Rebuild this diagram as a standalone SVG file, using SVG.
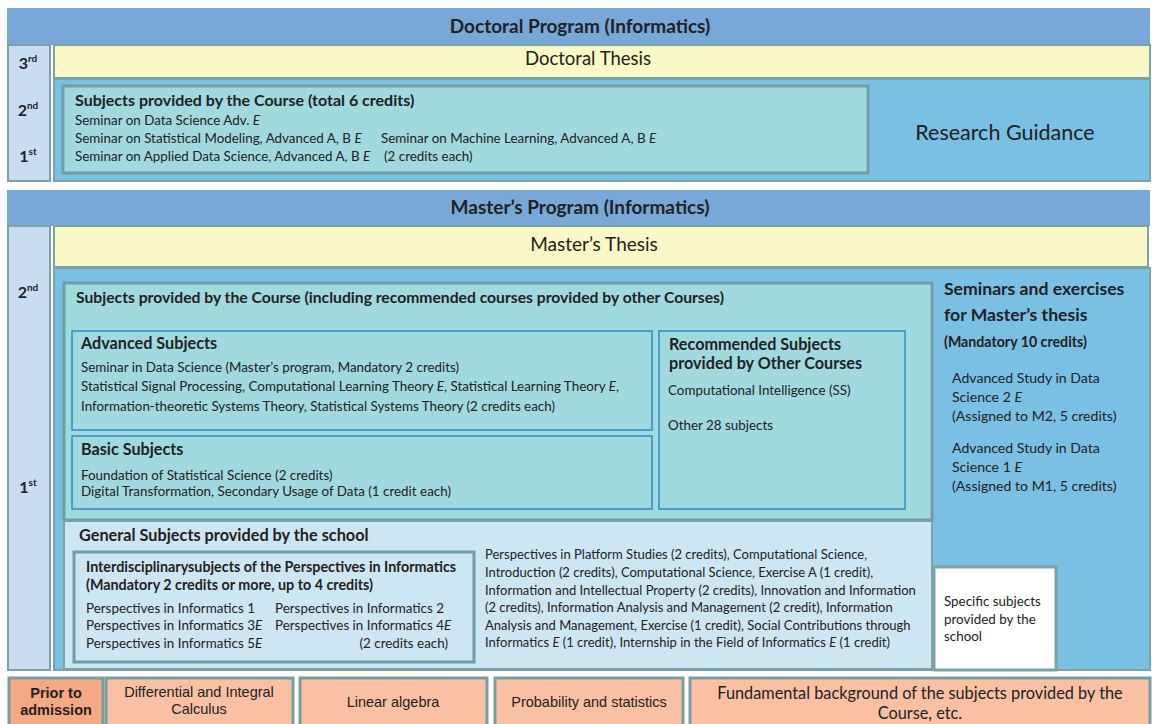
<svg xmlns="http://www.w3.org/2000/svg" width="1152" height="724" viewBox="0 0 1152 724">
<style>
text{font-family:Lato,"Open Sans","Liberation Sans",sans-serif;fill:#222}
.hdr{fill:#78a8d8}
.yr{fill:#c9ddf1;stroke:#7aa3a8;stroke-width:2}
.yel{fill:#f9f8c6;stroke:#7aa3a8;stroke-width:2}
.blu{fill:#7abfe4;stroke:#7aa3a8;stroke-width:2}
.teal{fill:#a0d9de;stroke:#6f9fa3;stroke-width:3}
.inb{fill:#a0d9de;stroke:#2e8bc9;stroke-width:1.5}
.gen{fill:#cde6f3;stroke:#7aa3a8;stroke-width:2}
.gbox{fill:#cde6f3;stroke:#6f9fa3;stroke-width:3}
.wht{fill:#fff;stroke:#7aa3a8;stroke-width:3}
.sal{fill:#f9c0a4;stroke:#7a9ea0;stroke-width:3}
.pri{fill:#f4a883;stroke:#7a9ea0;stroke-width:3}
.b{font-weight:bold}
.t{font-size:19px;font-weight:bold;text-anchor:middle}
.yl{font-size:16px;font-weight:bold;text-anchor:middle}
.s{font-size:13.4px}
.g{font-size:13px}
.ar{font-family:"Liberation Sans",Arial,sans-serif;font-size:14.5px;text-anchor:middle}
</style>

<g id="doctoral">
  <rect class="hdr" x="7" y="8" width="1143" height="37"/>
  <text class="t" x="580" y="33">Doctoral Program (Informatics)</text>
  <rect class="yr" x="8" y="45" width="42" height="136"/>
  <text class="yl" x="28" y="69">3<tspan font-size="10" dy="-7">rd</tspan></text>
  <text class="yl" x="28" y="116">2<tspan font-size="10" dy="-7">nd</tspan></text>
  <text class="yl" x="28" y="162">1<tspan font-size="10" dy="-7">st</tspan></text>
  <rect class="yel" x="54" y="45" width="1096" height="33"/>
  <text x="588" y="65" font-size="18.5" text-anchor="middle">Doctoral Thesis</text>
  <rect class="blu" x="54" y="79" width="1096" height="102"/>
  <rect class="teal" x="63" y="86" width="805" height="87"/>
  <text class="b" x="75" y="106" font-size="16">Subjects provided by the Course (total 6 credits)</text>
  <text class="s" x="75" y="125">Seminar on Data Science Adv. <tspan font-style="italic">E</tspan></text>
  <text class="s" x="75" y="143">Seminar on Statistical Modeling, Advanced A, B <tspan font-style="italic">E</tspan></text>
  <text class="s" x="381" y="143">Seminar on Machine Learning, Advanced A, B <tspan font-style="italic">E</tspan></text>
  <text class="s" x="75" y="161">Seminar on Applied Data Science, Advanced A, B <tspan font-style="italic">E</tspan></text>
  <text class="s" x="384" y="161">(2 credits each)</text>
  <text x="1005" y="140" font-size="21.5" text-anchor="middle">Research Guidance</text>
</g>

<g id="masters">
  <rect class="hdr" x="7" y="190" width="1143" height="36"/>
  <text class="t" x="580" y="214">Master’s Program (Informatics)</text>
  <rect class="yr" x="8" y="226" width="42" height="444"/>
  <text class="yl" x="28" y="298">2<tspan font-size="10" dy="-7">nd</tspan></text>
  <text class="yl" x="28" y="493">1<tspan font-size="10" dy="-7">st</tspan></text>
  <rect class="yel" x="54" y="226" width="1094" height="41"/>
  <text x="594" y="251" font-size="19" text-anchor="middle">Master’s Thesis</text>
  <rect class="blu" x="54" y="268" width="1096" height="402"/>
</g>

<g id="course-subjects">
  <rect class="teal" x="64" y="283" width="868" height="237"/>
  <text class="b" x="76" y="303" font-size="15.7">Subjects provided by the Course (including recommended courses provided by other Courses)</text>
</g>

<g id="advanced">
  <rect class="inb" x="72" y="331" width="580" height="99"/>
  <text class="b" x="81" y="349" font-size="16.2">Advanced Subjects</text>
  <text class="s" x="81" y="372">Seminar in Data Science (Master’s program, Mandatory 2 credits)</text>
  <text class="s" x="81" y="391">Statistical Signal Processing, Computational Learning Theory <tspan font-style="italic">E</tspan>, Statistical Learning Theory <tspan font-style="italic">E</tspan>,</text>
  <text class="s" x="81" y="411">Information-theoretic Systems Theory, Statistical Systems Theory (2 credits each)</text>
</g>

<g id="basic">
  <rect class="inb" x="72" y="436" width="580" height="73"/>
  <text class="b" x="81" y="455" font-size="16.2">Basic Subjects</text>
  <text class="s" x="81" y="480">Foundation of Statistical Science (2 credits)</text>
  <text class="s" x="81" y="496">Digital Transformation, Secondary Usage of Data (1 credit each)</text>
</g>

<g id="recommended">
  <rect class="inb" x="659" y="331" width="246" height="178"/>
  <text class="b" x="669" y="350" font-size="16.2">Recommended Subjects</text>
  <text class="b" x="669" y="369" font-size="16.2">provided by Other Courses</text>
  <text class="s" x="668" y="395">Computational Intelligence (SS)</text>
  <text class="s" x="668" y="430">Other 28 subjects</text>
</g>

<g id="seminars">
  <text class="b" x="944" y="295" font-size="17.6">Seminars and exercises</text>
  <text class="b" x="944" y="321" font-size="17.6">for Master’s thesis</text>
  <text class="b" x="944" y="347" font-size="14.2">(Mandatory 10 credits)</text>
  <text x="952" y="383" font-size="14.1">Advanced Study in Data</text>
  <text x="952" y="402" font-size="14.1">Science 2 <tspan font-style="italic">E</tspan></text>
  <text x="952" y="421" font-size="14.1">(Assigned to M2, 5 credits)</text>
  <text x="952" y="453" font-size="14.1">Advanced Study in Data</text>
  <text x="952" y="472" font-size="14.1">Science 1 <tspan font-style="italic">E</tspan></text>
  <text x="952" y="491" font-size="14.1">(Assigned to M1, 5 credits)</text>
</g>

<g id="general">
  <rect class="gen" x="64" y="521" width="868" height="148"/>
  <text class="b" x="79" y="541" font-size="16.3">General Subjects provided by the school</text>
  <text class="g" x="485" y="559">Perspectives in Platform Studies (2 credits), Computational Science,</text>
  <text class="g" x="485" y="577">Introduction (2 credits), Computational Science, Exercise A (1 credit),</text>
  <text class="g" x="485" y="595">Information and Intellectual Property (2 credits), Innovation and Information</text>
  <text class="g" x="485" y="612">(2 credits), Information Analysis and Management (2 credit), Information</text>
  <text class="g" x="485" y="630">Analysis and Management, Exercise (1 credit), Social Contributions through</text>
  <text class="g" x="485" y="647">Informatics <tspan font-style="italic">E</tspan> (1 credit), Internship in the Field of Informatics <tspan font-style="italic">E</tspan> (1 credit)</text>
</g>

<g id="interdisciplinary">
  <rect class="gbox" x="74" y="552" width="400" height="110"/>
  <text class="b" x="86" y="572" font-size="14.3">Interdisciplinarysubjects of the Perspectives in Informatics</text>
  <text class="b" x="86" y="590" font-size="14.3">(Mandatory 2 credits or more, up to 4 credits)</text>
  <text class="s" x="86" y="613">Perspectives in Informatics 1</text>
  <text class="s" x="275" y="613">Perspectives in Informatics 2</text>
  <text class="s" x="86" y="630">Perspectives in Informatics 3<tspan font-style="italic">E</tspan></text>
  <text class="s" x="275" y="630">Perspectives in Informatics 4<tspan font-style="italic">E</tspan></text>
  <text class="s" x="86" y="648">Perspectives in Informatics 5<tspan font-style="italic">E</tspan></text>
  <text class="s" x="448" y="648" text-anchor="end">(2 credits each)</text>
</g>

<g id="specific">
  <rect class="wht" x="934" y="567" width="122" height="103"/>
  <text class="s" x="944" y="606">Specific subjects</text>
  <text class="s" x="944" y="624">provided by the</text>
  <text class="s" x="944" y="641">school</text>
</g>

<g id="prior">
  <rect class="pri" x="9" y="678" width="94" height="50"/>
  <text class="ar b" x="56" y="698" font-size="14">Prior to</text>
  <text class="ar b" x="56" y="715" font-size="14">admission</text>
</g>
<g id="calculus">
  <rect class="sal" x="106" y="678" width="187" height="50"/>
  <text class="ar" x="199" y="697">Differential and Integral</text>
  <text class="ar" x="199" y="714">Calculus</text>
</g>
<g id="linear">
  <rect class="sal" x="300" y="678" width="187" height="50"/>
  <text class="ar" x="393" y="707">Linear algebra</text>
</g>
<g id="probability">
  <rect class="sal" x="495" y="678" width="188" height="50"/>
  <text class="ar" x="589" y="707">Probability and statistics</text>
</g>
<g id="fundamental">
  <rect class="sal" x="690" y="678" width="460" height="50"/>
  <text x="920" y="699" font-size="16.3" text-anchor="middle">Fundamental background of the subjects provided by the</text>
  <text x="920" y="719" font-size="16.3" text-anchor="middle">Course, etc.</text>
</g>

<g id="connectors"/>
</svg>
